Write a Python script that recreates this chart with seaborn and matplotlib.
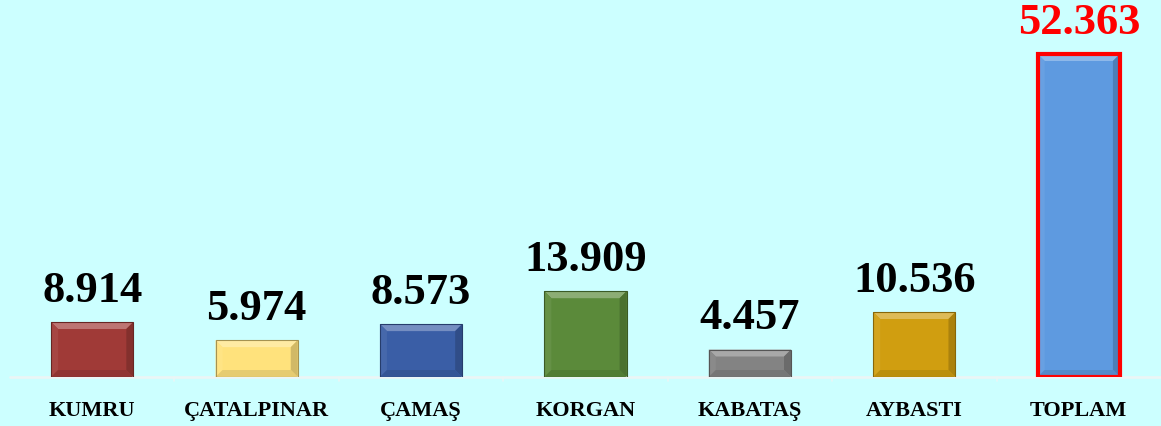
import matplotlib
matplotlib.use("Agg")
import matplotlib.pyplot as plt
import seaborn as sns
import pandas as pd
import numpy as np
from matplotlib.patches import Polygon
from matplotlib.colors import to_rgb

# Data
categories = ["KUMRU", "ÇATALPINAR", "ÇAMAŞ", "KORGAN", "KABATAŞ", "AYBASTI", "TOPLAM"]
values = [8.914, 5.974, 8.573, 13.909, 4.457, 10.536, 52.363]
value_labels = ["8.914", "5.974", "8.573", "13.909", "4.457", "10.536", "52.363"]
bar_colors = ["#A03A37", "#FFE27C", "#3A5EA6", "#5B8A3A", "#838383", "#D09E10", "#5E9AE0"]

BG = "#CCFFFF"
sns.set_theme(style="white")
plt.rcParams["font.family"] = ["Liberation Serif", "DejaVu Serif"]

df = pd.DataFrame({"category": categories, "value": values})

fig = plt.figure(figsize=(11.61, 4.26), dpi=100, facecolor=BG)
ax = fig.add_axes([10 / 1161, 1 - 377 / 426, 1151 / 1161, 377 / 426])
ax.set_facecolor(BG)

sns.barplot(data=df, x="category", y="value", hue="category",
            palette=bar_colors, width=0.5, legend=False, ax=ax,
            linewidth=0, saturation=1)

ax.set_xlim(-0.5, len(categories) - 0.5)
ax.set_ylim(0, 52.363 * 377 / 323)

for s in ax.spines.values():
    s.set_visible(False)
ax.set_yticks([])
ax.set_xlabel("")
ax.set_ylabel("")
ax.set_xticks(range(len(categories)))
ax.set_xticklabels(categories, fontsize=16, fontweight="bold", color="black")
ax.tick_params(axis="x", length=0, pad=17)

# Baseline and separators between categories
ax.axhline(0, color="#EAF6F6", lw=2, zorder=1, clip_on=False)
for b in np.arange(0.5, len(categories) - 0.5, 1):
    ax.plot([b, b], [0, -0.6], color="#EAF6F6", lw=1.2, clip_on=False)

fig.canvas.draw()
ax_w_px = ax.get_window_extent().width
ax_h_px = ax.get_window_extent().height
xr = ax.get_xlim()[1] - ax.get_xlim()[0]
yr = ax.get_ylim()[1] - ax.get_ylim()[0]
bev = 7  # bevel width in pixels
dx = bev * xr / ax_w_px
dy = bev * yr / ax_h_px


def shade(c, f):
    r = np.array(to_rgb(c))
    if f >= 0:
        return tuple(r + (1 - r) * f)
    return tuple(r * (1 + f))


bars = sorted(ax.patches, key=lambda p: p.get_x())
for i, (p, col) in enumerate(zip(bars, bar_colors)):
    x0 = p.get_x()
    x1 = x0 + p.get_width()
    y0 = p.get_y()
    y1 = y0 + p.get_height()
    ix0, ix1, iy0, iy1 = x0 + dx, x1 - dx, y0 + dy, y1 - dy
    faces = [
        ([(x0, y1), (x1, y1), (ix1, iy1), (ix0, iy1)], 0.30),   # top
        ([(x0, y0), (x0, y1), (ix0, iy1), (ix0, iy0)], 0.06),   # left
        ([(x1, y0), (x1, y1), (ix1, iy1), (ix1, iy0)], -0.18),  # right
        ([(x0, y0), (x1, y0), (ix1, iy0), (ix0, iy0)], -0.10),  # bottom
    ]
    for pts, f in faces:
        ax.add_patch(Polygon(pts, closed=True, facecolor=shade(col, f),
                             edgecolor="none", zorder=3))
    # thin dark outline
    ax.add_patch(Polygon([(x0, y0), (x1, y0), (x1, y1), (x0, y1)], closed=True,
                         fill=False, edgecolor=shade(col, -0.35), lw=0.8, zorder=4))
    if categories[i] == "TOPLAM":
        ax.add_patch(Polygon([(x0, y0), (x1, y0), (x1, y1), (x0, y1)], closed=True,
                             fill=False, edgecolor="#FF0000", lw=3, zorder=5,
                             joinstyle="miter"))

# Value labels
for i, (v, lab) in enumerate(zip(values, value_labels)):
    color = "#FF0000" if categories[i] == "TOPLAM" else "black"
    ax.annotate(lab, xy=(i, v), xytext=(0, 8), textcoords="offset points",
                ha="center", va="bottom", fontsize=32, fontweight="bold",
                color=color, annotation_clip=False)

fig.savefig("out.png", dpi=100, facecolor=BG)
